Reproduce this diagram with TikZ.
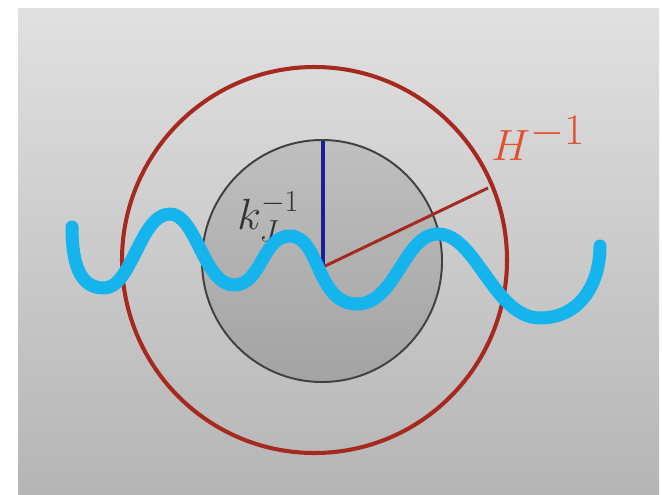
\documentclass[tikz,border=0pt]{standalone}
\usepackage{amsmath}
\begin{document}
\begin{tikzpicture}[x=0.02cm,y=-0.02cm]
\definecolor{ringred}{HTML}{A5291E}
\definecolor{labelred}{HTML}{E0512F}
\definecolor{navy}{HTML}{1C1E96}
\definecolor{wave}{HTML}{16B4EC}
\definecolor{inkgray}{HTML}{333333}
\tikzset{
  ring/.style={draw=ringred, line width=2.3pt},
  radiusline/.style={draw=ringred, line width=1.7pt},
  bluerad/.style={draw=navy, line width=2pt},
  core/.style={draw=black!75, line width=1.1pt, top color=black!25, bottom color=black!36},
  wavepen/.style={draw=wave, line width=7.4pt, line cap=round, line join=round},
  lbl/.style={inner sep=0pt, anchor=base west}
}
\useasboundingbox (0,0) rectangle (662,494);
\fill[white] (0,0) rectangle (662,494);
\shade[top color=black!12, bottom color=black!29] (18,8) rectangle (659,494);
% inner disc
\path[core] (322,261) ellipse [x radius=120, y radius=121];
% outer ring
\path[ring] (314.5,260) ellipse [x radius=192.5, y radius=193];
% radii
\coordinate (c) at (323,267);
\coordinate (top) at (323,141);
\coordinate (rim) at (488,188);
\draw[radiusline] (c) -- (rim);
\draw[bluerad] (c) -- (top);
% labels
\node[lbl, text=labelred, font=\fontsize{35}{35}\selectfont] (H) at (491,160) {$H^{-1}$};
\node[lbl, text=inkgray, font=\fontsize{24}{24}\selectfont] (k) at (237,229) {$k_J^{-1}$};
% wave
\coordinate (w0) at (72,227);
\coordinate (w1) at (104,288);
\coordinate (w2) at (170,214);
\coordinate (w3) at (234,285);
\coordinate (w4) at (290,236);
\coordinate (w5) at (357,304);
\coordinate (w6) at (438,234);
\coordinate (w7) at (540,318);
\coordinate (w8) at (600,246);
\draw[wavepen] (w0) .. controls (72,272) and (84,288) .. (w1)
  .. controls (132,288) and (140,214) .. (w2)
  .. controls (196,214) and (204,285) .. (w3)
  .. controls (262,285) and (262,236) .. (w4)
  .. controls (320,236) and (316,304) .. (w5)
  .. controls (396,304) and (404,234) .. (w6)
  .. controls (476,234) and (494,318) .. (w7)
  .. controls (580,318) and (600,284) .. (w8);
\end{tikzpicture}
\end{document}
